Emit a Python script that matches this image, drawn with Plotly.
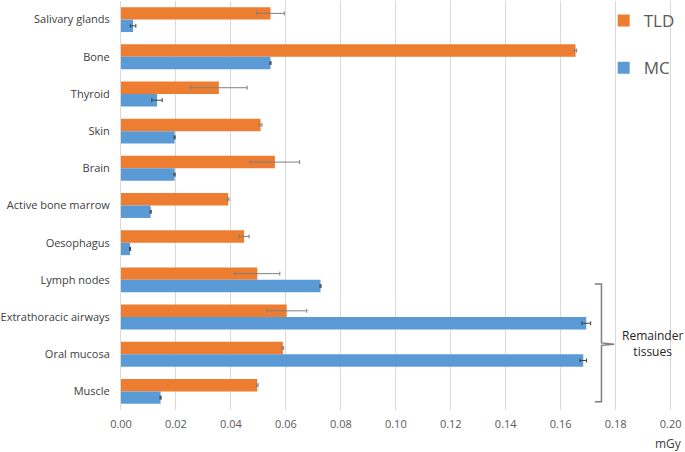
import plotly.graph_objects as go

categories = ["Salivary glands", "Bone", "Thyroid", "Skin", "Brain", "Active bone marrow",
              "Oesophagus", "Lymph nodes", "Extrathoracic airways", "Oral mucosa", "Muscle"]
tld = [0.0544, 0.1654, 0.0356, 0.0508, 0.0560, 0.0390, 0.0448, 0.0496, 0.0603, 0.0589, 0.0496]
tld_err = [0.0050, 0.0004, 0.0103, 0.0005, 0.0090, 0.0003, 0.0018, 0.0082, 0.0073, 0.0003, 0.0003]
mc = [0.0044, 0.0544, 0.0131, 0.0195, 0.0195, 0.0108, 0.0033, 0.0726, 0.1693, 0.1682, 0.0144]
mc_err = [0.0010, 0.0002, 0.0019, 0.0002, 0.0002, 0.0002, 0.0002, 0.0002, 0.0016, 0.0012, 0.0002]
x_ticks = [0.00, 0.02, 0.04, 0.06, 0.08, 0.10, 0.12, 0.14, 0.16, 0.18, 0.20]

FONT = "Open Sans"
fig = go.Figure()
fig.add_trace(go.Bar(y=categories, x=tld, name="TLD", orientation="h",
                     marker=dict(color="#ED7D31", line=dict(width=0)), legendgroup="a",
                     error_x=dict(type="data", array=tld_err, color="#7F7F7F", thickness=1, width=2)))
fig.add_trace(go.Bar(y=categories, x=mc, name="MC", orientation="h",
                     marker=dict(color="#5B9BD5", line=dict(width=0)), legendgroup="b",
                     error_x=dict(type="data", array=mc_err, color="#404040", thickness=1, width=2)))

fig.update_layout(
    width=685, height=452,
    margin=dict(l=121, r=13, t=1, b=42),
    plot_bgcolor="white", paper_bgcolor="white",
    barmode="group", bargap=0.33, bargroupgap=0,
    font=dict(family=FONT, color="#404040"),
    showlegend=True,
    legend=dict(x=0.876, y=0.995, xanchor="left", yanchor="top", font=dict(size=17, color="#595959"),
                tracegroupgap=22, itemwidth=30, bgcolor="rgba(0,0,0,0)"),
    xaxis=dict(range=[0, 0.2005], tickvals=x_ticks, ticktext=[f"{v:.2f}" for v in x_ticks],
               showgrid=True, gridcolor="#D9D9D9", gridwidth=1, zeroline=False, automargin=False,
               showline=False, tickfont=dict(size=11, color="#595959"), ticks="",
               ticklabelstandoff=6),
    yaxis=dict(autorange="reversed", showgrid=False, showline=True, linecolor="#D9D9D9",
               automargin=False, tickfont=dict(size=11, color="#404040"), ticks="",
               ticklabelstandoff=8),
)

# mGy axis unit
fig.add_annotation(text="mGy", x=1.0, y=-0.082, xref="paper", yref="paper", xshift=12,
                   xanchor="right", yanchor="middle", showarrow=False,
                   font=dict(size=12, color="#404040"))

# bracket for remainder tissues
fig.add_shape(type="path", xref="paper", yref="paper",
              path="M 0.860 0.308 L 0.872 0.308 L 0.872 0.164 L 0.895 0.161 L 0.872 0.158 L 0.872 0.020 L 0.860 0.020",
              line=dict(color="#7F7F7F", width=1.5))
fig.add_annotation(text="Remainder<br>tissues", x=0.965, y=0.162, xref="paper", yref="paper",
                   xanchor="center", yanchor="middle", showarrow=False,
                   font=dict(size=12, color="#262626"))

fig.write_html("out.html", post_script="document.body.style.margin='0';",
               config={"displayModeBar": False})
